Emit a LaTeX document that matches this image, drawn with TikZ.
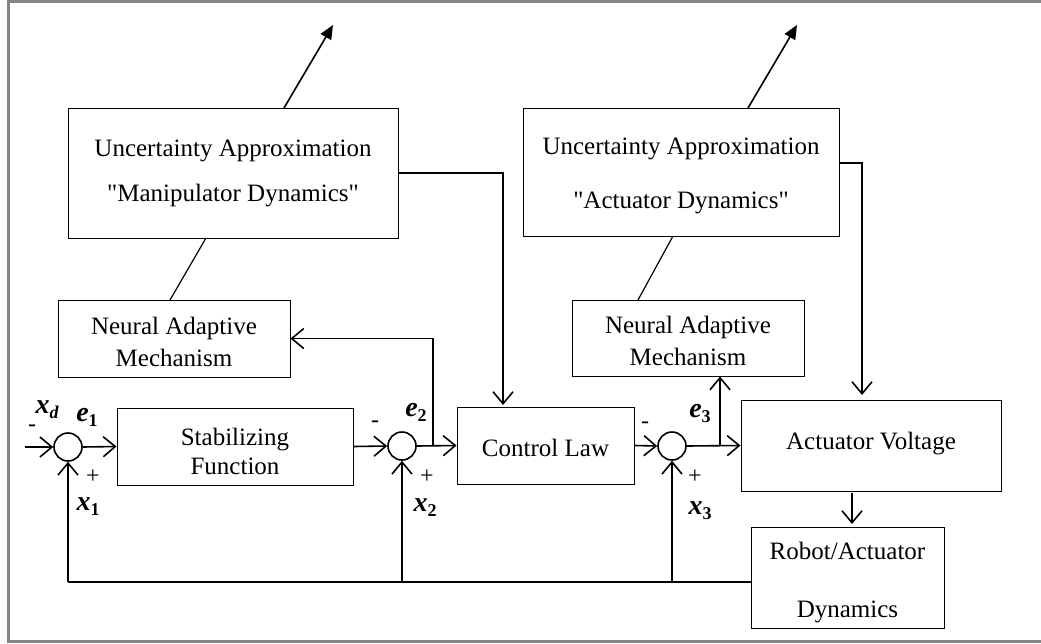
\documentclass[tikz,border=0pt]{standalone}
\usepackage{fontspec}
\setmainfont{Liberation Serif}[Ligatures=TeXOff]
\usetikzlibrary{arrows.meta,calc}
\newcommand\sigl[2]{{\fontsize{28}{28}\selectfont\bfseries\itshape #1}\raisebox{-5pt}{\fontsize{18}{18}\selectfont\bfseries #2}}
\begin{document}
\begin{tikzpicture}[x=1pt,y=-1pt,
  box/.style={draw,line width=1pt,inner sep=0pt},
  txt/.style={inner sep=0pt,align=center,font=\fontsize{25}{28}\selectfont},
  sumnode/.style={draw,circle,line width=1.6pt,minimum size=28pt,inner sep=0pt},
  conn/.style={line width=1.6pt},
  arr/.style={conn,-{Straight Barb[length=12pt,width=20pt]}},
  outarr/.style={conn,-{Triangle[length=14pt,width=12pt]}},
  sgn/.style={inner sep=0pt,font=\fontsize{24}{24}\selectfont},
  lbl/.style={inner sep=0pt}]
\useasboundingbox (0,0) rectangle (1041,643);
% frame
\draw[line width=2.2pt,color=black!48] (1041,1.5) -- (8.5,1.5) -- (8.5,641.5) -- (1041,641.5);
% boxes
\node[box,minimum width=330pt,minimum height=130pt] (ua1) at (233,173) {};
\node[box,minimum width=316pt,minimum height=128pt] (ua2) at (681,172) {};
\node[box,minimum width=232pt,minimum height=77pt] (nam1) at (174,338.5) {};
\node[box,minimum width=232pt,minimum height=76pt] (nam2) at (688,338) {};
\node[box,minimum width=236pt,minimum height=77pt] (stab) at (235,446.5) {};
\node[box,minimum width=177pt,minimum height=77pt] (cl) at (545.5,445.5) {};
\node[box,minimum width=260pt,minimum height=91pt] (av) at (871,445.5) {};
\node[box,minimum width=193pt,minimum height=101pt] (robot) at (847.5,577.5) {};
% box texts
\node[txt] (ua1t) at ($(ua1.center)+(0,0)$) {Uncertainty Approximation\\[17pt]"Manipulator Dynamics"};
\node[txt] (ua2t) at ($(ua2.center)+(0,4)$) {Uncertainty Approximation\\[26pt]"Actuator Dynamics"};
\node[txt] (nam1t) at ($(nam1.center)+(0,3)$) {Neural Adaptive\\[4pt]Mechanism};
\node[txt] (nam2t) at ($(nam2.center)+(0,3)$) {Neural Adaptive\\[4pt]Mechanism};
\node[txt] (stabt) at ($(stab.center)+(0,5)$) {Stabilizing\\[1pt]Function};
\node[txt] (clt) at ($(cl.center)+(0,2)$) {Control Law};
\node[txt] (avt) at ($(av.center)+(0,-2)$) {Actuator Voltage};
\node[txt] (robott) at ($(robot.center)+(0,5)$) {Robot/Actuator\\[30pt]Dynamics};
% summing junctions
\node[sumnode] (s1) at (68,447) {};
\node[sumnode] (s2) at (402,446) {};
\node[sumnode] (s3) at (672,446) {};
% labels
\node[lbl] (lxd) at (47,410) {\sigl{x}{\itshape d}};
\node[lbl] (le1) at (87,417) {\sigl{e}{1}};
\node[lbl] (lx1) at (88,507) {\sigl{x}{1}};
\node[lbl] (le2) at (416,412) {\sigl{e}{2}};
\node[lbl] (lx2) at (425,508) {\sigl{x}{2}};
\node[lbl] (le3) at (700,413) {\sigl{e}{3}};
\node[lbl] (lx3) at (700,511) {\sigl{x}{3}};
\node[sgn] (m1) at (32,428) {-};
\node[sgn] (m2) at (375,424) {-};
\node[sgn] (m3) at (645,425) {-};
\node[sgn] (p1) at (93,477) {+};
\node[sgn] (p2) at (427,477) {+};
\node[sgn] (p3) at (695,477) {+};
% helper coordinates
\coordinate (in) at (25,447);
\coordinate (b1) at (433,446);
\coordinate (b2) at (720,446);
\coordinate (clin) at (503,405);
\coordinate (avin) at (862,395);
\coordinate (avout) at (852,493);
\coordinate (robin) at (852,524);
\coordinate (fb) at (751,582);
\coordinate (fbl) at (68,582);
\coordinate (fb2) at (402,582);
\coordinate (fb3) at (672,582);
\coordinate (o1) at (333,25);
\coordinate (o2) at (797,25);
\coordinate (ua1top) at (284,108);
\coordinate (ua2top) at (748,108);
\coordinate (ua1bot) at (206,238);
\coordinate (nam1top) at (170,300);
\coordinate (ua2bot) at (673,236);
\coordinate (nam2top) at (638,300);
\coordinate (ua2r) at (839,163);
% forward path
\draw[arr] (in) -- (s1.west);
\draw[arr] (s1.east) -- (stab.west);
\draw[arr] (stab.east) -- (s2.west);
\draw[arr] (s2.east) -- (cl.west);
\draw[arr] (cl.east) -- (s3.west);
\draw[arr] (s3.east) -- (av.west);
\draw[arr] (avout) -- (robin);
% branches to neural mechanisms
\draw[arr] (b1) |- (nam1.east);
\draw[arr] (b2) -- (b2 |- nam2.south);
% uncertainty outputs
\draw[arr] (ua1.east) -| (clin);
\draw[arr] (ua2r) -| (avin);
\draw[outarr] (ua1top) -- (o1);
\draw[outarr] (ua2top) -- (o2);
\draw[line width=1.2pt] (ua1bot) -- (nam1top);
\draw[line width=1.2pt] (ua2bot) -- (nam2top);
% feedback
\draw[conn] (fb) -- (fbl);
\draw[arr] (fbl) -- (s1.south);
\draw[arr] (fb2) -- (s2.south);
\draw[arr] (fb3) -- (s3.south);
\end{tikzpicture}
\end{document}
